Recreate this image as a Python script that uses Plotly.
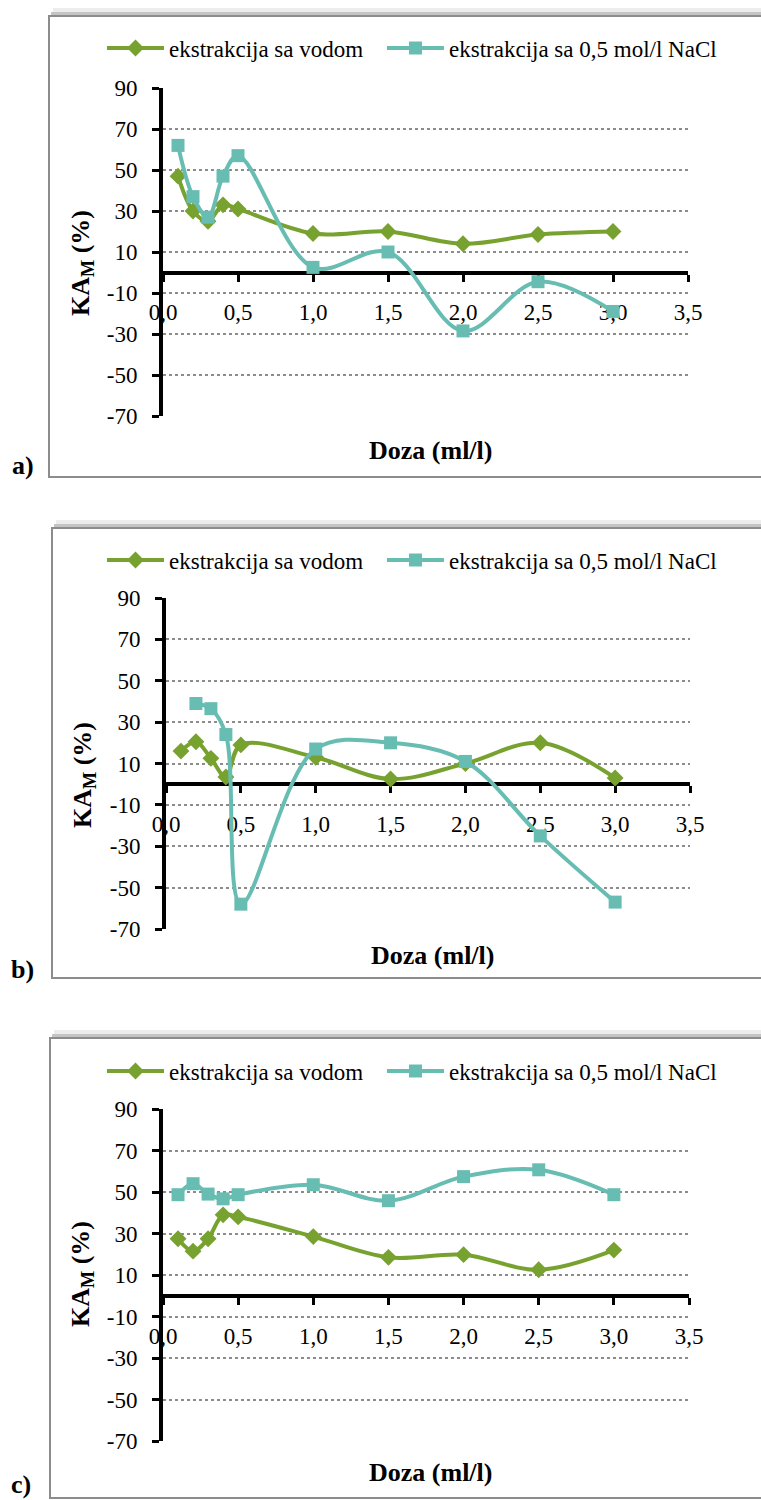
import plotly.graph_objects as go

W, H = 761, 1500
FONT = "Liberation Serif, Times New Roman, serif"
GREEN = "#78A22F"
TEAL = "#68BDB3"

# ---- data ----
name_water = "ekstrakcija sa vodom"
name_nacl = "ekstrakcija sa 0,5 mol/l NaCl"

x_water = [0.1, 0.2, 0.3, 0.4, 0.5, 1.0, 1.5, 2.0, 2.5, 3.0]

a_water = [47, 30, 25, 33, 31, 19, 20, 14, 18.5, 20]
a_nacl_x = [0.1, 0.2, 0.3, 0.4, 0.5, 1.0, 1.5, 2.0, 2.5, 3.0]
a_nacl = [62, 37, 27, 47, 57, 2.5, 10, -28.5, -4.5, -19]

b_water = [16, 20.5, 12.5, 3.5, 19, 13, 2.5, 10, 20, 3]
b_nacl_x = [0.2, 0.3, 0.4, 0.5, 1.0, 1.5, 2.0, 2.5, 3.0]
b_nacl = [39, 36.5, 24, -58, 17, 20, 11, -25, -57]

c_water = [27.5, 21.5, 27.5, 39, 38, 28.5, 18.5, 19.8, 12.5, 22]
c_nacl_x = [0.1, 0.2, 0.3, 0.4, 0.5, 1.0, 1.5, 2.0, 2.5, 3.0]
c_nacl = [48.7, 54, 49, 46.7, 48.7, 53.5, 45.8, 57.4, 60.7, 48.7]

x_ticks = [0, 0.5, 1.0, 1.5, 2.0, 2.5, 3.0, 3.5]
x_ticktext = ["0,0", "0,5", "1,0", "1,5", "2,0", "2,5", "3,0", "3,5"]
y_ticks = [90, 70, 50, 30, 10, -10, -30, -50, -70]
y_ticktext = ["90", "70", "50", "30", "10", "-10", "-30", "-50", "-70"]

panel_labels = ["a)", "b)", "c)"]


def fx(px):
    return px / W


def fy(py):
    return 1 - py / H


# layout geometry (pixels)
panels = [
    dict(plot=(163, 688, 88, 416), zero=272.5, box=(49, 16, 775, 477), leg=48,
         xt=(430, 450), yt=(82, 263), lab=(10, 465)),
    dict(plot=(166, 690, 598, 929), zero=784, box=(52, 528, 775, 978), leg=560,
         xt=(432, 955), yt=(84, 775), lab=(9, 970)),
    dict(plot=(163, 689, 1109, 1441), zero=1296, box=(50, 1038, 775, 1498), leg=1071,
         xt=(430, 1472), yt=(82, 1274), lab=(9, 1484)),
]

series = [
    (a_water, a_nacl_x, a_nacl),
    (b_water, b_nacl_x, b_nacl),
    (c_water, c_nacl_x, c_nacl),
]

TICKFONT = dict(family=FONT, size=23, color="black")

fig = go.Figure()
shapes = []
annotations = []
layout = {}

for i, (p, (wv, nx, nv)) in enumerate(zip(panels, series)):
    sfx = "" if i == 0 else str(i + 1)
    xa, ya = "x" + sfx, "y" + sfx
    leg1 = "legend" if i == 0 else "legend" + str(2 * i + 1)
    leg2 = "legend" + str(2 * i + 2)
    fig.add_trace(go.Scatter(
        x=x_water, y=wv, xaxis=xa, yaxis=ya, name=name_water, legend=leg1,
        mode="lines+markers",
        line=dict(color=GREEN, width=4, shape="spline", smoothing=1.0),
        marker=dict(symbol="diamond", size=13, color=GREEN),
    ))
    fig.add_trace(go.Scatter(
        x=nx, y=nv, xaxis=xa, yaxis=ya, name=name_nacl, legend=leg2,
        mode="lines+markers",
        line=dict(color=TEAL, width=4, shape="spline", smoothing=1.0),
        marker=dict(symbol="square", size=13, color=TEAL),
    ))
    x0, x1, y0, y1 = p["plot"]
    layout["xaxis" + sfx] = dict(
        domain=[fx(x0), fx(x1)], range=[0, 3.5], anchor="free", position=fy(p["zero"]),
        tickmode="array", tickvals=x_ticks, ticktext=x_ticktext, showline=True,
        linecolor="black", linewidth=4, ticks="outside", ticklen=7, tickwidth=3,
        tickcolor="black", showgrid=False, zeroline=False, ticklabelstandoff=11,
        tickfont=TICKFONT, layer="below traces", automargin=False,
    )
    layout["yaxis" + sfx] = dict(
        domain=[fy(y1), fy(y0)], range=[-70, 90], anchor=xa,
        tickmode="array", tickvals=y_ticks, ticktext=y_ticktext, showline=True,
        linecolor="black", linewidth=4, ticks="outside", ticklen=7, tickwidth=3,
        tickcolor="black", showgrid=True, gridcolor="#8c8c8c", gridwidth=1.5,
        griddash="dot", zeroline=False, tickfont=TICKFONT, ticklabelstandoff=10,
        layer="below traces", automargin=False,
    )
    for leg, lx in ((leg1, 102), (leg2, 382)):
        layout[leg] = dict(
            orientation="h", x=fx(lx), xanchor="left", y=fy(p["leg"]), yanchor="middle",
            font=dict(family=FONT, size=23, color="black"), bgcolor="rgba(0,0,0,0)",
            itemwidth=57,
        )
    bx0, by0, bx1, by1 = p["box"]
    # soft shadow above the frame
    shapes.append(dict(type="rect", xref="paper", yref="paper", x0=fx(bx0 + 4), x1=fx(bx1),
                       y0=fy(by0 - 1), y1=fy(by0 - 8), fillcolor="#ececec",
                       line=dict(width=0), layer="below"))
    shapes.append(dict(type="rect", xref="paper", yref="paper", x0=fx(bx0 + 2), x1=fx(bx1),
                       y0=fy(by0 - 1), y1=fy(by0 - 4), fillcolor="#c4c4c4",
                       line=dict(width=0), layer="below"))
    shapes.append(dict(type="rect", xref="paper", yref="paper", x0=fx(bx0), x1=fx(bx1),
                       y0=fy(by1), y1=fy(by0), fillcolor="white",
                       line=dict(color="#8c8c8c", width=2), layer="below"))
    annotations.append(dict(
        text="<b>Doza (ml/l)</b>", xref="paper", yref="paper", x=fx(p["xt"][0]),
        y=fy(p["xt"][1]), xanchor="center", yanchor="middle", showarrow=False,
        font=dict(family=FONT, size=26, color="black")))
    annotations.append(dict(
        text="<b>KA<sub>M</sub> (%)</b>", xref="paper", yref="paper", x=fx(p["yt"][0]),
        y=fy(p["yt"][1]), xanchor="center", yanchor="middle", showarrow=False,
        textangle=-90, font=dict(family=FONT, size=26, color="black")))
    annotations.append(dict(
        text="<b>" + panel_labels[i] + "</b>", xref="paper", yref="paper",
        x=fx(p["lab"][0]), y=fy(p["lab"][1]), xanchor="left", yanchor="middle",
        showarrow=False, font=dict(family=FONT, size=26, color="black")))

fig.update_layout(
    width=W, height=H, autosize=False,
    margin=dict(l=0, r=0, t=0, b=0, autoexpand=False),
    font=dict(family=FONT, size=23, color="black"),
    paper_bgcolor="white", plot_bgcolor="rgba(0,0,0,0)",
    shapes=shapes, annotations=annotations, showlegend=True,
    **layout,
)

fig.write_html(
    "out.html",
    post_script="document.body.style.margin='0';document.body.style.overflow='hidden';",
)
